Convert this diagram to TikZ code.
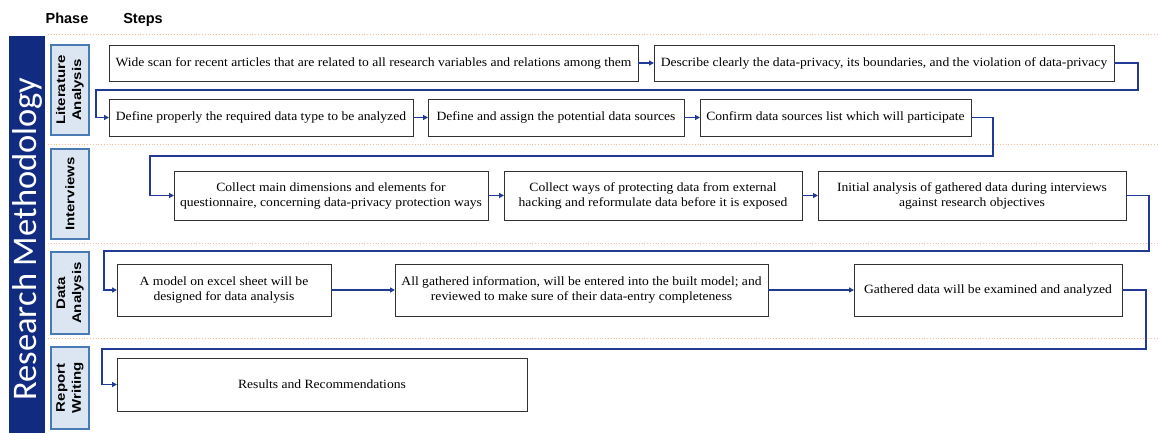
\documentclass[tikz,border=0pt]{standalone}
\usepackage{fontspec}
\setmainfont[FakeStretch=1.08]{Liberation Serif}
\newfontfamily\arialfont{Liberation Sans}
\newfontfamily\arialwide[FakeStretch=1.2]{Liberation Sans}
\newfontfamily\calfont{Carlito}
\usetikzlibrary{arrows.meta}
\definecolor{navybar}{RGB}{16,43,128}
\definecolor{phasefill}{RGB}{220,230,242}
\definecolor{phaseline}{RGB}{74,122,180}
\definecolor{connblue}{RGB}{32,58,150}
\definecolor{sepline}{RGB}{245,190,150}
\definecolor{boxline}{RGB}{50,50,50}
\tikzset{
  stepbox/.style={draw=boxline, line width=0.8pt, fill=white, inner sep=2pt, outer sep=0pt,
    align=center, font=\fontsize{12.6}{15}\selectfont},
  phasebox/.style={draw=phaseline, line width=2pt, fill=phasefill, inner sep=0pt, outer sep=0pt,
    minimum width=38pt, minimum height=82pt},
  phasetext/.style={rotate=90, align=center, font=\arialwide\bfseries\fontsize{12.5}{16}\selectfont},
  conn/.style={draw=connblue, line width=1.4pt, -{Triangle[length=5pt,width=5pt]}},
  sepstyle/.style={draw=sepline, line width=0.8pt, dotted},
  headtext/.style={font=\arialfont\bfseries\fontsize{14.5}{16}\selectfont}
}
\begin{document}
\begin{tikzpicture}[x=1pt,y=-1pt]
\useasboundingbox (0,0) rectangle (1159,433);
% headers
\node[headtext] (phasehead) at (67,18) {Phase};
\node[headtext] (stepshead) at (143,20) {Steps};
% separators
\foreach \yy in {34,144,243,338} \draw[sepstyle] (48,\yy) -- (1159,\yy);
% big bar
\fill[navybar] (9,36) rectangle (45,433);
\node[rotate=90, text=white, font=\calfont\fontsize{34.5}{36}\selectfont] (rm) at (27,239) {Research Methodology};
% phase boxes
\node[phasebox, minimum height=90pt] (p1) at (70,90) {};
\node[phasetext] at (p1.center) {Literature\\Analysis};
\node[phasebox, minimum height=90pt] (p2) at (70,194) {};
\node[phasetext] at (p2.center) {Interviews};
\node[phasebox] (p3) at (70,293) {};
\node[phasetext] at (p3.center) {Data\\Analysis};
\node[phasebox] (p4) at (70,388) {};
\node[phasetext] at (p4.center) {Report\\Writing};
% steps
\node[stepbox, minimum width=529pt, minimum height=36pt] (A) at (373.5,63) {Wide scan for recent articles that are related to all research variables and relations among them};
\node[stepbox, minimum width=460pt, minimum height=36pt] (B) at (884,63) {Describe clearly the data-privacy, its boundaries, and the violation of data-privacy};
\node[stepbox, minimum width=304pt, minimum height=37pt] (C) at (261,117.5) {Define properly the required data type to be analyzed};
\node[stepbox, minimum width=256pt, minimum height=37pt] (D) at (556,117.5) {Define and assign the potential data sources};
\node[stepbox, minimum width=271pt, minimum height=37pt] (E) at (835.5,117.5) {Confirm data sources list which will participate};
\node[stepbox, minimum width=314pt, minimum height=49pt] (F) at (331,195.5) {Collect main dimensions and elements for\\questionnaire, concerning data-privacy protection ways};
\node[stepbox, minimum width=298pt, minimum height=49pt] (G) at (653,195.5) {Collect ways of protecting data from external\\hacking and reformulate data before it is exposed};
\node[stepbox, minimum width=308pt, minimum height=49pt] (H) at (972,195.5) {Initial analysis of gathered data during interviews\\against research objectives};
\node[stepbox, minimum width=214pt, minimum height=52pt] (I) at (224,290) {A model on excel sheet will be\\designed for data analysis};
\node[stepbox, minimum width=373pt, minimum height=52pt] (J) at (581.5,290) {All gathered information, will be entered into the built model; and\\reviewed to make sure of their data-entry completeness};
\node[stepbox, minimum width=268pt, minimum height=52pt] (K) at (988,290) {Gathered data will be examined and analyzed};
\node[stepbox, minimum width=410pt, minimum height=53pt] (L) at (322,384.5) {Results and Recommendations};
% connectors
\draw[conn] (A) -- (B);
\draw[conn] (C) -- (D);
\draw[conn] (D) -- (E);
\draw[conn] (F) -- (G);
\draw[conn] (G) -- (H);
\draw[conn] (I) -- (J);
\draw[conn] (J) -- (K);
\draw[conn] (B.east) -| (1138,90) -| (96,117.5) -- (C.west);
\draw[conn] (E.east) -| (993,156) -| (150,195.5) -- (F.west);
\draw[conn] (H.east) -| (1149,251) -| (104,290) -- (I.west);
\draw[conn] (K.east) -| (1146,349) -| (102,384.5) -- (L.west);
\end{tikzpicture}
\end{document}
